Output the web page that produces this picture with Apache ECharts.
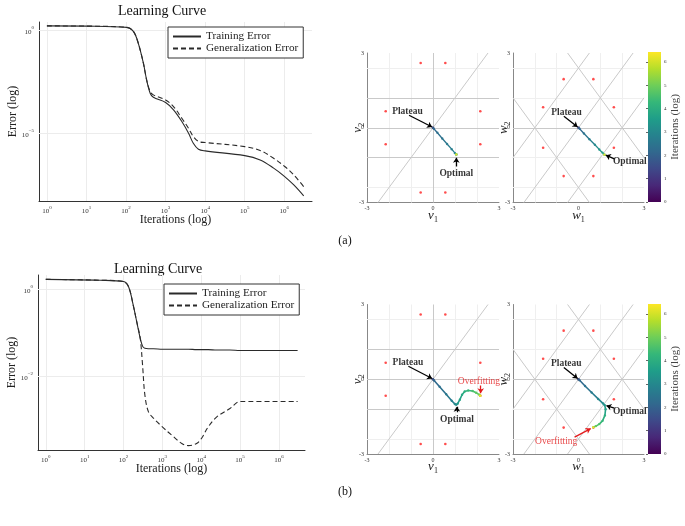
<!DOCTYPE html>
<html>
<head>
<meta charset="utf-8">
<script src="https://cdn.jsdelivr.net/npm/echarts@6/dist/echarts.min.js"></script>
<style>
html, body { margin: 0; padding: 0; background: #fff; }
#chart { width: 685px; height: 526px; }
</style>
</head>
<body>
<div id="chart"></div>
<script>
// learning curves, both axes in log10 units
const lcA_logIter = [0, 1, 2.02, 2.19, 2.31, 2.44, 2.52, 2.61, 2.69, 3.0, 3.2, 3.41, 3.58, 3.7, 3.83, 4.0, 5.0, 5.39, 5.73, 6.01, 6.24, 6.49];
const lcA_train   = [0.23, 0.22, 0.16, -0.05, -0.62, -1.6, -2.4, -3.05, -3.25, -3.5, -3.86, -4.43, -5.0, -5.49, -5.78, -5.86, -6.09, -6.3, -6.7, -7.11, -7.52, -8.05];
const lcA_gen     = [0.23, 0.22, 0.16, -0.05, -0.62, -1.6, -2.4, -2.97, -3.13, -3.38, -3.7, -4.27, -4.76, -5.16, -5.4, -5.45, -5.65, -5.84, -6.22, -6.62, -7.03, -7.6];
const lcA_xTicks = [0, 1, 2, 3, 4, 5, 6];
const lcA_yTicks = [0, -5];

const lcB_logIter = [0, 1.4, 2.0, 2.13, 2.25, 2.34, 2.43, 2.49, 2.55, 2.64, 2.77, 3.0, 3.28, 3.5, 3.67, 3.88, 4.01, 4.18, 4.4, 4.74, 5.0, 6.48];
const lcB_train   = [0.23, 0.21, 0.18, 0.06, -0.36, -0.74, -1.12, -1.3, -1.35, -1.36, -1.36, -1.37, -1.37, -1.37, -1.37, -1.38, -1.38, -1.38, -1.39, -1.39, -1.4, -1.4];
const lcB_gen     = [0.23, 0.21, 0.18, 0.06, -0.36, -0.74, -1.12, -1.73, -2.42, -2.8, -2.95, -3.15, -3.37, -3.53, -3.58, -3.53, -3.41, -3.15, -2.92, -2.73, -2.57, -2.57];
const lcB_xTicks = [0, 1, 2, 3, 4, 5, 6];
const lcB_yTicks = [0, -2];

// teacher points (red)
const vTeacher = [[-0.56, 2.6], [0.56, 2.6], [-2.15, 0.66], [2.15, 0.66], [-2.15, -0.66], [2.15, -0.66], [-0.56, -2.6], [0.56, -2.6]];
const wTeacher = [[-0.68, 1.95], [0.68, 1.95], [-1.62, 0.82], [1.62, 0.82], [-1.62, -0.8], [1.62, -0.8], [-0.68, -1.94], [0.68, -1.94]];

// student trajectories: [x, y, log10 iteration]
const trajVA = [[0, 0, 0], [0, 0, 2.0], [0.04, -0.04, 2.2], [0.2, -0.2, 2.35], [0.42, -0.43, 2.5], [0.64, -0.65, 2.65], [0.85, -0.86, 2.8], [1.0, -1.02, 3.0], [1.06, -1.07, 3.3], [1.06, -1.07, 4.0], [1.06, -1.07, 5.0], [1.06, -1.07, 6.43]];
const trajWA = [[0, 0, 0], [0, 0, 2.0], [0.05, -0.04, 2.2], [0.25, -0.23, 2.5], [0.5, -0.46, 2.8], [0.75, -0.68, 3.1], [0.95, -0.87, 3.4], [1.1, -1.0, 3.65], [1.19, -1.08, 3.9], [1.19, -1.08, 5.0], [1.19, -1.08, 6.43]];
const trajVB = [[0, 0, 0], [0, 0, 2.0], [0.05, -0.05, 2.2], [0.3, -0.3, 2.4], [0.6, -0.6, 2.6], [0.85, -0.86, 2.8], [1.0, -1.0, 3.0], [1.06, -1.02, 3.2], [1.12, -0.98, 3.45], [1.22, -0.82, 3.7], [1.32, -0.62, 3.9], [1.44, -0.49, 4.1], [1.6, -0.45, 4.3], [1.8, -0.47, 4.55], [1.96, -0.54, 4.8], [2.1, -0.62, 5.1], [2.15, -0.66, 5.5], [2.15, -0.66, 6.43]];
const trajWB = [[0, 0, 0], [0, 0, 2.0], [0.05, -0.04, 2.2], [0.3, -0.27, 2.45], [0.6, -0.53, 2.7], [0.9, -0.79, 2.95], [1.12, -0.97, 3.2], [1.2, -1.04, 3.4], [1.24, -1.2, 3.7], [1.21, -1.45, 4.0], [1.1, -1.67, 4.3], [0.95, -1.8, 4.6], [0.8, -1.88, 4.9], [0.68, -1.93, 5.2], [0.68, -1.93, 6.43]];

// lattice lines [slope, intercept], plus vertical ones
const vLattice = [[0, 0], [0, 1.2], [0, -1.2], [1.2, 0]];
const vLatticeX = [0];
const wLattice = [[0, 0], [1.2, 0], [1.2, 2.4], [1.2, -2.4], [-1.2, 2.4], [-1.2, -2.4]];
const wLatticeX = [];
const gridXs = [-2, -1, 1, 2];
const gridYs = [-2.4, -1.2, 1.2, 2.4];

const iterMax = 6.43;

const viridis = ['#440154', '#482878', '#3e4989', '#31688e', '#26828e', '#1f9e89', '#35b779', '#6ece58', '#b5de2b', '#fde725'];

const annVA = [
	{text: 'Plateau', at: [-1.16, 0.64], from: [-1.09, 0.5], to: [-0.04, 0.03], color: '#000'},
	{text: 'Optimal', at: [1.06, -1.84], from: [1.06, -1.56], to: [1.06, -1.2], color: '#000'}
];
const annWA = [
	{text: 'Plateau', at: [-0.55, 0.63], from: [-0.67, 0.46], to: [-0.04, 0.03], color: '#000'},
	{text: 'Optimal', at: [2.35, -1.34], from: [1.64, -1.25], to: [1.25, -1.1], color: '#000'}
];
const annVB = [
	{text: 'Plateau', at: [-1.14, 0.67], from: [-1.12, 0.52], to: [-0.04, 0.03], color: '#000'},
	{text: 'Optimal', at: [1.09, -1.6], from: [1.09, -1.32], to: [1.08, -1.1], color: '#000'},
	{text: 'Overfitting', at: [2.09, -0.1], from: [2.17, -0.25], to: [2.17, -0.56], color: '#e41a1c', normal: true}
];
const annWB = [
	{text: 'Plateau', at: [-0.56, 0.64], from: [-0.67, 0.47], to: [-0.04, 0.03], color: '#000'},
	{text: 'Optimal', at: [2.35, -1.3], from: [1.64, -1.16], to: [1.28, -1.06], color: '#000'},
	{text: 'Overfitting', at: [-1.02, -2.5], from: [-0.18, -2.32], to: [0.56, -1.98], color: '#e41a1c', normal: true}
];

const serif = 'Liberation Serif';
const grids = [], xAxes = [], yAxes = [], series = [], legends = [], trajIdx = [];

function sup(v)
{
	let s = v < 0 ? '\u2212' + (-v) : String(v);
	return '{b|10}{s|' + s + '}';
}

const supRich = {
	b: {fontSize: 7, fontFamily: serif, color: '#333', lineHeight: 10, verticalAlign: 'bottom'},
	s: {fontSize: 5, fontFamily: serif, color: '#333', lineHeight: 10, verticalAlign: 'top'}
};

function clipLine(m, b)
{
	let x1 = -3, x2 = 3;
	if(m !== 0)
	{
		let xa = (-3 - b) / m, xb = (3 - b) / m;
		x1 = Math.max(-3, Math.min(xa, xb));
		x2 = Math.min(3, Math.max(xa, xb));
	}
	return [[x1, m * x1 + b], [x2, m * x2 + b]];
}

function addCurve(box, logIter, train, gen, xr, yr, xTicks, yTicks, legendPos, xNameGap)
{
	let gi = grids.length;
	grids.push({left: box[0], top: box[1], width: box[2], height: box[3]});
	xAxes.push({
		gridIndex: gi, type: 'value', min: xr[0], max: xr[1], minInterval: 1, maxInterval: 1,
		axisLine: {onZero: false, lineStyle: {color: '#333', width: 1}},
		axisTick: {show: false}, splitLine: {show: false},
		axisLabel: {formatter: sup, rich: supRich, margin: 4, showMinLabel: false, showMaxLabel: false},
		name: 'Iterations (log)', nameLocation: 'middle', nameGap: xNameGap, nameMoveOverlap: false,
		nameTextStyle: {fontFamily: serif, fontSize: 12, color: '#222'}
	});
	yAxes.push({
		gridIndex: gi, type: 'value', min: yr[0], max: yr[1],
		minInterval: yTicks[0] - yTicks[1], maxInterval: yTicks[0] - yTicks[1],
		axisLine: {onZero: false, lineStyle: {color: '#333', width: 1}},
		axisTick: {show: false}, splitLine: {show: false},
		axisLabel: {formatter: sup, rich: supRich, margin: 5, showMinLabel: false, showMaxLabel: false},
		name: 'Error (log)', nameLocation: 'middle', nameGap: 20, nameRotate: 90, nameMoveOverlap: false,
		nameTextStyle: {fontFamily: serif, fontSize: 12, color: '#222'}
	});
	let gl = [];
	xTicks.forEach(x => gl.push({coords: [[x, yr[0]], [x, yr[1]]]}));
	yTicks.forEach(y => gl.push({coords: [[xr[0], y], [xr[1], y]]}));
	series.push({
		type: 'lines', coordinateSystem: 'cartesian2d', xAxisIndex: gi, yAxisIndex: gi, silent: true, z: 1,
		lineStyle: {color: '#ececec', width: 1, opacity: 1}, data: gl
	});
	series.push({
		name: 'Training Error', type: 'line', xAxisIndex: gi, yAxisIndex: gi, symbol: 'none', smooth: 0.35,
		lineStyle: {color: '#2a2a2a', width: 1.1}, itemStyle: {color: '#2a2a2a'},
		data: logIter.map((x, i) => [x, train[i]])
	});
	series.push({
		name: 'Generalization Error', type: 'line', xAxisIndex: gi, yAxisIndex: gi, symbol: 'none', smooth: 0.35,
		lineStyle: {color: '#2a2a2a', width: 1.1, type: [5, 3]}, itemStyle: {color: '#2a2a2a'},
		data: logIter.map((x, i) => [x, gen[i]])
	});
	legends.push({
		left: legendPos[0], top: legendPos[1], orient: 'vertical',
		data: ['Training Error', 'Generalization Error'],
		borderColor: '#333', borderWidth: 1, backgroundColor: '#fff',
		padding: [4, 5, 4, 4], itemGap: 1, itemWidth: 28, itemHeight: 11,
		itemStyle: {opacity: 0},
		textStyle: {fontFamily: serif, fontSize: 11.2, color: '#222', lineHeight: 11},
		selectedMode: false
	});
}

function addPanel(box, names, teacher, traj, lattice, latticeX, anns, trajWidth)
{
	let gi = grids.length;
	grids.push({left: box[0], top: box[1], width: box[2], height: box[3]});
	let nameStyle = {
		rich: {
			i: {fontFamily: serif, fontStyle: 'italic', fontSize: 13, color: '#222', lineHeight: 16, verticalAlign: 'middle'},
			s: {fontFamily: serif, fontSize: 8, color: '#222', lineHeight: 8, verticalAlign: 'bottom'}
		}
	};
	let lbl = {fontFamily: serif, fontSize: 6, color: '#333', margin: 3};
	xAxes.push({
		gridIndex: gi, type: 'value', min: -3, max: 3, interval: 3,
		axisLine: {onZero: false, lineStyle: {color: '#888', width: 1}},
		axisTick: {show: false}, splitLine: {show: false}, axisLabel: lbl,
		name: '{i|' + names[0] + '}{s|1}', nameLocation: 'middle', nameGap: 5, nameMoveOverlap: false,
		nameTextStyle: nameStyle
	});
	yAxes.push({
		gridIndex: gi, type: 'value', min: -3, max: 3, interval: 3,
		axisLine: {onZero: false, lineStyle: {color: '#888', width: 1}},
		axisTick: {show: false}, splitLine: {show: false}, axisLabel: lbl,
		name: '{i|' + names[1] + '}{s|2}', nameLocation: 'middle', nameGap: 1, nameRotate: 90, nameMoveOverlap: false,
		nameTextStyle: nameStyle
	});
	let faint = [];
	gridXs.forEach(x => faint.push({coords: [[x, -3], [x, 3]]}));
	gridYs.forEach(y => faint.push({coords: [[-3, y], [3, y]]}));
	series.push({
		type: 'lines', coordinateSystem: 'cartesian2d', xAxisIndex: gi, yAxisIndex: gi, silent: true, z: 1,
		lineStyle: {color: '#efefef', width: 1, opacity: 1}, data: faint
	});
	let lat = lattice.map(l => ({coords: clipLine(l[0], l[1])}));
	latticeX.forEach(x => lat.push({coords: [[x, -3], [x, 3]]}));
	series.push({
		type: 'lines', coordinateSystem: 'cartesian2d', xAxisIndex: gi, yAxisIndex: gi, silent: true, z: 2,
		lineStyle: {color: '#c9c9c9', width: 1, opacity: 1}, data: lat
	});
	series.push({
		type: 'scatter', xAxisIndex: gi, yAxisIndex: gi, symbol: 'circle', symbolSize: 2.6, z: 3,
		itemStyle: {color: '#ff2020'}, data: teacher
	});
	let segs = [];
	for(let i = 0; i < traj.length - 1; i++)
		segs.push([traj[i][0], traj[i][1], traj[i][2], traj[i + 1][0], traj[i + 1][1]]);
	trajIdx.push(series.length);
	series.push({
		type: 'custom', xAxisIndex: gi, yAxisIndex: gi, z: 4, silent: true,
		encode: {x: [0, 3], y: [1, 4]}, data: segs,
		renderItem: (params, api) => {
			let a = api.coord([api.value(0), api.value(1)]);
			let b = api.coord([api.value(3), api.value(4)]);
			return {
				type: 'line',
				shape: {x1: a[0], y1: a[1], x2: b[0], y2: b[1]},
				style: {stroke: api.visual('color'), lineWidth: trajWidth, lineCap: 'round'}
			};
		}
	});
	trajIdx.push(series.length);
	series.push({
		type: 'scatter', xAxisIndex: gi, yAxisIndex: gi, symbolSize: 2.4, z: 5, silent: true, data: traj
	});
	anns.forEach(a => {
		series.push({
			type: 'lines', coordinateSystem: 'cartesian2d', xAxisIndex: gi, yAxisIndex: gi, silent: true, z: 6,
			symbol: ['none', 'arrow'], symbolSize: 5,
			lineStyle: {color: a.color, width: 1.3, opacity: 1},
			data: [{coords: [a.from, a.to]}]
		});
		series.push({
			type: 'scatter', xAxisIndex: gi, yAxisIndex: gi, symbolSize: 0, z: 7, silent: true,
			label: {
				show: true, position: 'inside', formatter: p => p.name, color: a.color,
				fontFamily: serif, fontSize: 9.5, fontWeight: a.normal ? 'normal' : 'bold'
			},
			data: [{name: a.text, value: a.at}]
		});
	});
}

function addColorbar(box)
{
	let gi = grids.length;
	grids.push({left: box[0], top: box[1], width: box[2], height: box[3]});
	xAxes.push({gridIndex: gi, type: 'value', min: 0, max: 1, show: false});
	yAxes.push({
		gridIndex: gi, type: 'value', min: 0, max: iterMax, interval: 1, position: 'right',
		axisLine: {show: false}, splitLine: {show: false},
		axisTick: {show: true, inside: true, length: 2, lineStyle: {color: '#666'}},
		axisLabel: {fontFamily: serif, fontSize: 5, color: '#333', margin: 3, showMaxLabel: false},
		name: 'Iterations (log)', nameLocation: 'middle', nameGap: 9, nameRotate: 90, nameMoveOverlap: false,
		nameTextStyle: {fontFamily: serif, fontSize: 11, color: '#444'}
	});
	series.push({
		type: 'custom', xAxisIndex: gi, yAxisIndex: gi, silent: true, z: 1,
		data: [[0, iterMax]],
		renderItem: (params, api) => {
			let p0 = api.coord([0, 0]);
			let p1 = api.coord([1, api.value(1)]);
			return {
				type: 'rect',
				shape: {x: p0[0], y: p1[1], width: p1[0] - p0[0], height: p0[1] - p1[1]},
				style: {
					fill: new echarts.graphic.LinearGradient(0, 1, 0, 0,
						viridis.map((c, i) => ({offset: i / (viridis.length - 1), color: c})))
				}
			};
		}
	});
}

addCurve([39, 22, 273, 179], lcA_logIter, lcA_train, lcA_gen, [-0.2, 6.7], [-8.3, 0.42], lcA_xTicks, lcA_yTicks, [168, 27], 13);
addPanel([367, 53, 132, 149.5], ['v', 'v'], vTeacher, trajVA, vLattice, vLatticeX, annVA, 1.3);
addPanel([513, 53, 131, 149.5], ['w', 'w'], wTeacher, trajWA, wLattice, wLatticeX, annWA, 1.3);
addColorbar([648, 52, 13, 150]);

addCurve([38, 275, 267, 175], lcB_logIter, lcB_train, lcB_gen, [-0.2, 6.67], [-3.68, 0.33], lcB_xTicks, lcB_yTicks, [164, 284], 13);
addPanel([367, 304.5, 132, 149.5], ['v', 'v'], vTeacher, trajVB, vLattice, vLatticeX, annVB, 1.6);
addPanel([513, 304.5, 131, 149.5], ['w', 'w'], wTeacher, trajWB, wLattice, wLatticeX, annWB, 1.6);
addColorbar([648, 304, 13, 150]);

function label(text, x, y, size)
{
	return {
		type: 'text', x: x, y: y, silent: true,
		style: {text: text, fontFamily: serif, fontSize: size, fill: '#111', align: 'center', verticalAlign: 'middle'}
	};
}

let chart = echarts.init(document.getElementById('chart'));
chart.setOption({
	animation: false,
	backgroundColor: '#fff',
	grid: grids,
	xAxis: xAxes,
	yAxis: yAxes,
	legend: legends,
	visualMap: [{
		type: 'continuous', show: false, min: 0, max: iterMax, dimension: 2,
		seriesIndex: trajIdx, inRange: {color: viridis}
	}],
	graphic: [
		label('Learning Curve', 162, 11, 14),
		label('Learning Curve', 158, 269, 14),
		label('(a)', 345, 241, 12),
		label('(b)', 345, 492, 12)
	],
	series: series
});
</script>
</body>
</html>
